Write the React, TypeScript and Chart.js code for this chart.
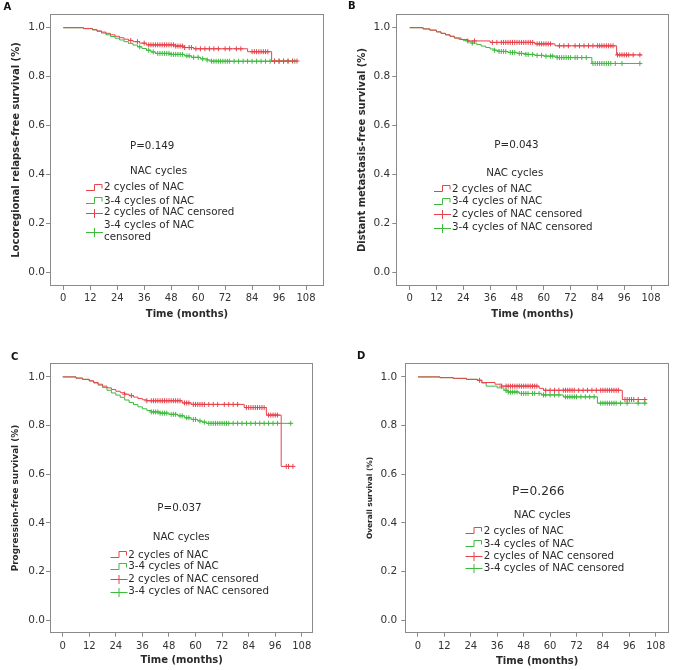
import React, { useEffect, useRef } from 'react';
import { Chart, registerables } from 'chart.js';

Chart.register(...registerables);

// ---------- shared text ----------
const xTickValues = [0, 12, 24, 36, 48, 60, 72, 84, 96, 108];
const yTickValues = [0, 0.2, 0.4, 0.6, 0.8, 1.0];
const xAxisTitle = 'Time (months)';
const legendTitle = 'NAC cycles';
const seriesLabels = ['2 cycles of NAC', '3-4 cycles of NAC', '2 cycles of NAC censored', '3-4 cycles of NAC censored'];
const panelLetters = ['A', 'B', 'C', 'D'];
const yAxisTitles = [
  'Locoregional relapse-free survival (%)',
  'Distant metastasis-free survival (%)',
  'Progression-free survival (%)',
  'Overall survival (%)',
];
const pValueLabels = ['P=0.149', 'P=0.043', 'P=0.037', 'P=0.266'];

// ---------- Panel A: locoregional relapse-free survival ----------
const aRedTimes = [0, 9, 13, 15, 17, 19, 21, 23, 25, 27, 29, 31, 34, 37, 50, 54, 58, 82, 92.7];
const aRedSurv = [1.0, 0.997, 0.992, 0.987, 0.982, 0.977, 0.971, 0.965, 0.959, 0.953, 0.948, 0.943, 0.937, 0.93, 0.925, 0.919, 0.914, 0.902, 0.864];
const aRedEnd = 104;
const aRedCensor = [30, 33, 36, 38, 39, 40, 41, 42, 43, 44, 45, 46, 47, 48, 49, 50, 51, 52, 53, 54, 56, 57, 59, 61, 63, 65, 67, 69, 72, 74, 77, 79, 84, 85, 86, 87, 88, 89, 90, 91, 94, 96, 98, 100, 102, 104];
const aGreenTimes = [0, 9, 13, 15, 17, 19, 21, 23, 25, 27, 29, 31, 33, 35, 37, 39, 41, 48, 54, 57, 61, 64, 66];
const aGreenSurv = [1.0, 0.996, 0.991, 0.985, 0.978, 0.971, 0.964, 0.957, 0.95, 0.943, 0.936, 0.929, 0.922, 0.915, 0.908, 0.901, 0.895, 0.891, 0.885, 0.879, 0.873, 0.868, 0.863];
const aGreenEnd = 103;
const aGreenCensor = [34, 38, 40, 42, 43, 44, 45, 46, 47, 48, 49, 50, 51, 52, 53, 55, 56, 58, 60, 62, 64, 66, 67, 68, 69, 70, 71, 72, 73, 74, 76, 78, 80, 82, 84, 86, 88, 90, 92, 94, 96, 98, 100, 103];

// ---------- Panel B: distant metastasis-free survival ----------
const bRedTimes = [0, 6, 9, 12, 14, 16, 18, 20, 23, 26, 36, 56, 65, 92.6];
const bRedSurv = [1.0, 0.995, 0.99, 0.983, 0.977, 0.971, 0.965, 0.958, 0.952, 0.946, 0.94, 0.934, 0.926, 0.889];
const bRedEnd = 104;
const bRedCensor = [26, 29, 37, 39, 41, 42, 43, 44, 45, 46, 47, 48, 49, 50, 51, 52, 53, 54, 55, 57, 58, 59, 60, 61, 62, 63, 67, 69, 71, 74, 76, 78, 80, 82, 84, 85, 86, 87, 88, 89, 90, 91, 93, 94, 95, 96, 97, 98, 100, 103];
const bGreenTimes = [0, 6, 9, 12, 14, 16, 18, 20, 22, 24, 26, 28, 30, 32, 34, 36, 38, 40, 44, 48, 52, 56, 60, 66, 81.5];
const bGreenSurv = [1.0, 0.995, 0.99, 0.983, 0.977, 0.971, 0.965, 0.958, 0.952, 0.947, 0.942, 0.937, 0.931, 0.925, 0.919, 0.913, 0.908, 0.903, 0.899, 0.895, 0.891, 0.887, 0.884, 0.878, 0.854];
const bGreenEnd = 103;
const bGreenCensor = [28, 38, 40, 41, 42, 43, 45, 46, 47, 49, 50, 52, 53, 55, 57, 59, 61, 63, 64, 66, 67, 68, 69, 70, 71, 72, 74, 75, 77, 79, 82, 83, 84, 85, 86, 87, 88, 89, 90, 92, 95, 103];

// ---------- Panel C: progression-free survival ----------
const cRedTimes = [0, 6, 9, 12, 14, 16, 18, 20, 22, 24, 26, 28, 30, 32, 34, 36, 38, 54, 58, 82, 92, 98.7];
const cRedSurv = [1.0, 0.995, 0.99, 0.984, 0.977, 0.97, 0.962, 0.955, 0.948, 0.941, 0.935, 0.929, 0.923, 0.917, 0.911, 0.906, 0.902, 0.893, 0.887, 0.874, 0.843, 0.632];
const cRedEnd = 104;
const cRedCensor = [28, 31, 38, 40, 41, 42, 43, 44, 45, 46, 47, 48, 49, 50, 51, 52, 53, 55, 56, 57, 59, 60, 61, 62, 63, 64, 66, 68, 70, 73, 75, 77, 79, 83, 84, 85, 86, 87, 88, 89, 90, 91, 93, 94, 95, 96, 97, 101, 102, 104];
const cGreenTimes = [0, 6, 9, 12, 14, 16, 18, 20, 22, 24, 26, 28, 30, 32, 34, 36, 38, 40, 44, 48, 52, 55, 58, 61, 63, 65];
const cGreenSurv = [1.0, 0.995, 0.99, 0.983, 0.975, 0.966, 0.956, 0.945, 0.934, 0.925, 0.916, 0.905, 0.895, 0.886, 0.877, 0.869, 0.862, 0.856, 0.851, 0.846, 0.84, 0.832, 0.825, 0.819, 0.814, 0.809];
const cGreenEnd = 103;
const cGreenCensor = [40, 41, 42, 43, 44, 45, 46, 47, 49, 50, 51, 53, 54, 56, 57, 59, 60, 62, 64, 66, 67, 68, 69, 70, 71, 72, 73, 74, 75, 77, 79, 81, 83, 85, 87, 89, 91, 93, 95, 97, 103];

// ---------- Panel D: overall survival ----------
const dRedTimes = [0, 10, 16, 22, 27, 29, 35, 38, 55, 57, 92.8];
const dRedSurv = [1.0, 0.997, 0.994, 0.99, 0.986, 0.977, 0.97, 0.962, 0.953, 0.945, 0.907];
const dRedEnd = 104;
const dRedCensor = [28, 38, 40, 41, 42, 43, 44, 45, 46, 47, 48, 49, 50, 51, 52, 53, 54, 58, 60, 62, 64, 66, 67, 68, 69, 70, 71, 73, 75, 77, 79, 81, 83, 84, 85, 86, 87, 88, 89, 90, 91, 94, 95, 96, 97, 98, 100, 103];
const dGreenTimes = [0, 10, 16, 22, 27, 29, 31, 36, 39, 41, 46, 56, 66, 81.5];
const dGreenSurv = [1.0, 0.997, 0.994, 0.99, 0.986, 0.975, 0.962, 0.955, 0.945, 0.938, 0.932, 0.926, 0.918, 0.892];
const dGreenEnd = 104;
const dGreenCensor = [40, 41, 42, 43, 44, 45, 47, 48, 49, 50, 52, 53, 55, 57, 58, 60, 62, 64, 67, 68, 69, 70, 71, 72, 74, 76, 78, 80, 83, 84, 85, 86, 87, 88, 89, 90, 92, 95, 100, 103];

const seriesData = [
  { rT: aRedTimes, rS: aRedSurv, rE: aRedEnd, rC: aRedCensor, gT: aGreenTimes, gS: aGreenSurv, gE: aGreenEnd, gC: aGreenCensor },
  { rT: bRedTimes, rS: bRedSurv, rE: bRedEnd, rC: bRedCensor, gT: bGreenTimes, gS: bGreenSurv, gE: bGreenEnd, gC: bGreenCensor },
  { rT: cRedTimes, rS: cRedSurv, rE: cRedEnd, rC: cRedCensor, gT: cGreenTimes, gS: cGreenSurv, gE: cGreenEnd, gC: cGreenCensor },
  { rT: dRedTimes, rS: dRedSurv, rE: dRedEnd, rC: dRedCensor, gT: dGreenTimes, gS: dGreenSurv, gE: dGreenEnd, gC: dGreenCensor },
];

// ---------- styling / layout ----------
const RED = '#e8434d';
const GREEN = '#3fba3f';
const FRAME = '#8a8a8a';
const TEXT = '#2a2a2a';
const FONT = '"DejaVu Sans", Verdana, sans-serif';
const W = 337;
const H = 335;

type Layout = {
  ox: number; oy: number;
  frame: [number, number, number, number];
  xr: [number, number]; yr: [number, number];
  yTitleSize: number; yTitlePad: number; yTickPad: number; xTickPad: number; xTitlePad: number;
  letter: [number, number];
  p: [number, number, number];
  nac: [number, number];
  iconX: number; textX: number; rows: number[]; wrap: boolean;
};

const layouts: Layout[] = [
  { ox: 0, oy: 0, frame: [50, 14, 324, 286], xr: [-5.92, 116.0], yr: [-0.0543, 1.0559],
    yTitleSize: 10, yTitlePad: 10, yTickPad: 1, xTickPad: 2, xTitlePad: 15,
    letter: [7.5, 6.7], p: [130, 146.7, 10.3], nac: [130, 171.7], iconX: 86, textX: 104,
    rows: [187.7, 201, 212.7, 225.7], wrap: true },
  { ox: 337, oy: 0, frame: [59.3, 14, 331.7, 286], xr: [-6.0, 115.9], yr: [-0.0543, 1.0559],
    yTitleSize: 10, yTitlePad: 19, yTickPad: 2, xTickPad: 2, xTitlePad: 14.7,
    letter: [15, 6], p: [157.3, 145.7, 10.3], nac: [149.3, 173.3], iconX: 97, textX: 115,
    rows: [189.3, 201.7, 214.3, 227.7], wrap: false },
  { ox: 0, oy: 335, frame: [50, 28.3, 313.3, 297.7], xr: [-5.74, 113.2], yr: [-0.052, 1.056],
    yTitleSize: 8.9, yTitlePad: 10.7, yTickPad: 1, xTickPad: 4, xTitlePad: 4,
    letter: [15, 22], p: [157.3, 173.3, 10.3], nac: [152.7, 202.7], iconX: 110.5, textX: 128.3,
    rows: [220, 231.5, 244, 256.7], wrap: false },
  { ox: 337, oy: 335, frame: [68.3, 28.3, 333.3, 297.7], xr: [-5.74, 114.0], yr: [-0.052, 1.056],
    yTitleSize: 7.4, yTitlePad: 28.5, yTickPad: 4, xTickPad: 4, xTitlePad: 3,
    letter: [24, 20.5], p: [175, 156.7, 12.2], nac: [176.7, 180], iconX: 128.5, textX: 146.7,
    rows: [196, 209.3, 221, 233.3], wrap: false },
];

function survAt(ts: number[], ss: number[], t: number) {
  let s = ss[0];
  for (let i = 0; i < ts.length; i++) if (ts[i] <= t) s = ss[i];
  return s;
}
function stepPoints(ts: number[], ss: number[], end: number) {
  const pts = ts.map((t, i) => ({ x: t, y: ss[i] }));
  pts.push({ x: end, y: ss[ss.length - 1] });
  return pts;
}
function censorPoints(ts: number[], ss: number[], cens: number[]) {
  return cens.map((c) => ({ x: c, y: survAt(ts, ss, c) }));
}

function drawStepIcon(ctx: CanvasRenderingContext2D, x: number, y: number, color: string) {
  const w = 17;
  ctx.strokeStyle = color;
  ctx.lineWidth = 1;
  ctx.beginPath();
  ctx.moveTo(x, y + 2.5);
  ctx.lineTo(x + 8.5, y + 2.5);
  ctx.lineTo(x + 8.5, y - 3.5);
  ctx.lineTo(x + w - 1, y - 3.5);
  ctx.lineTo(x + w - 1, y + 0.5);
  ctx.stroke();
}
function drawPlusIcon(ctx: CanvasRenderingContext2D, x: number, y: number, color: string) {
  const w = 17;
  ctx.strokeStyle = color;
  ctx.lineWidth = 1;
  ctx.beginPath();
  ctx.moveTo(x, y + 0.5);
  ctx.lineTo(x + w, y + 0.5);
  ctx.moveTo(x + w / 2, y - 4);
  ctx.lineTo(x + w / 2, y + 5);
  ctx.stroke();
}

function makeOverlay(L: Layout, idx: number) {
  return {
    id: 'kmOverlay' + idx,
    afterDraw(chart: any) {
      const ctx: CanvasRenderingContext2D = chart.ctx;
      const ca = chart.chartArea;
      ctx.save();
      // frame
      ctx.strokeStyle = FRAME;
      ctx.lineWidth = 1;
      const l = Math.round(ca.left) + 0.5;
      const t = Math.round(ca.top) + 0.5;
      const r = Math.round(ca.right) - 0.5;
      const b = Math.round(ca.bottom) - 0.5;
      ctx.strokeRect(l, t, r - l, b - t);
      // p-value and legend
      ctx.fillStyle = TEXT;
      ctx.textBaseline = 'middle';
      ctx.textAlign = 'left';
      ctx.font = `${L.p[2]}px ${FONT}`;
      ctx.fillText(pValueLabels[idx], L.p[0], L.p[1]);
      ctx.font = `10.3px ${FONT}`;
      ctx.fillText(legendTitle, L.nac[0], L.nac[1]);
      const colors = [RED, GREEN, RED, GREEN];
      for (let i = 0; i < 4; i++) {
        const y = L.rows[i];
        ctx.fillStyle = TEXT;
        if (i === 3 && L.wrap) {
          ctx.fillText('3-4 cycles of NAC', L.textX, y);
          ctx.fillText('censored', L.textX, y + 11.6);
          drawPlusIcon(ctx, L.iconX, Math.round(y + 5.8), colors[i]);
        } else {
          ctx.fillText(seriesLabels[i], L.textX, y);
          if (i < 2) drawStepIcon(ctx, L.iconX, Math.round(y), colors[i]);
          else drawPlusIcon(ctx, L.iconX, Math.round(y), colors[i]);
        }
      }
      ctx.restore();
    },
  };
}

function KMPanel({ idx }: { idx: number }) {
  const ref = useRef<HTMLCanvasElement | null>(null);
  useEffect(() => {
    const L = layouts[idx];
    const d = seriesData[idx];
    const canvas = ref.current;
    if (!canvas) return;
    const [fl, ft, fr, fb] = L.frame;
    const chart = new Chart(canvas, {
      type: 'scatter',
      data: {
        datasets: [
          { label: seriesLabels[0], data: stepPoints(d.rT, d.rS, d.rE), showLine: true, stepped: true,
            borderColor: RED, borderWidth: 1, pointRadius: 0, fill: false },
          { label: seriesLabels[1], data: stepPoints(d.gT, d.gS, d.gE), showLine: true, stepped: true,
            borderColor: GREEN, borderWidth: 1, pointRadius: 0, fill: false },
          { label: seriesLabels[2], data: censorPoints(d.rT, d.rS, d.rC), showLine: false,
            pointStyle: 'cross', pointRadius: 2.5, borderColor: RED, borderWidth: 1 },
          { label: seriesLabels[3], data: censorPoints(d.gT, d.gS, d.gC), showLine: false,
            pointStyle: 'cross', pointRadius: 2.5, borderColor: GREEN, borderWidth: 1 },
        ],
      } as any,
      options: {
        animation: false,
        responsive: false,
        events: [],
        devicePixelRatio: 1,
        layout: { padding: { left: 0, top: ft, right: W - fr, bottom: 0 } },
        plugins: { legend: { display: false }, tooltip: { enabled: false } },
        scales: {
          x: {
            type: 'linear',
            min: L.xr[0],
            max: L.xr[1],
            afterBuildTicks: (s: any) => { s.ticks = xTickValues.map((v) => ({ value: v })); },
            afterFit: (s: any) => { s.height = H - fb; },
            ticks: { autoSkip: false, maxRotation: 0, color: '#333', padding: L.xTickPad,
              font: { family: FONT, size: 10 } },
            grid: { display: true, drawOnChartArea: false, drawTicks: true, tickLength: 4, color: FRAME },
            border: { display: false },
            title: { display: true, text: xAxisTitle, color: TEXT,
              font: { family: FONT, size: 10, weight: 'bold' }, padding: { top: 0, bottom: L.xTitlePad } },
          },
          y: {
            type: 'linear',
            min: L.yr[0],
            max: L.yr[1],
            afterBuildTicks: (s: any) => { s.ticks = yTickValues.map((v) => ({ value: v })); },
            afterFit: (s: any) => { s.width = fl; },
            ticks: { autoSkip: false, color: '#333', padding: L.yTickPad,
              font: { family: FONT, size: 10.5 }, callback: (v: any) => Number(v).toFixed(1) },
            grid: { display: true, drawOnChartArea: false, drawTicks: true, tickLength: 4, color: FRAME },
            border: { display: false },
            title: { display: true, text: yAxisTitles[idx], color: TEXT,
              font: { family: FONT, size: L.yTitleSize, weight: 'bold' }, padding: { top: L.yTitlePad, bottom: 0 } },
          },
        },
      } as any,
      plugins: [makeOverlay(L, idx)],
    });
    return () => chart.destroy();
  }, [idx]);
  const L = layouts[idx];
  return (
    <div style={{ position: 'absolute', left: L.ox, top: L.oy, width: W, height: H }}>
      <canvas ref={ref} width={W} height={H} style={{ display: 'block', width: W, height: H }} />
      <div style={{ position: 'absolute', left: L.letter[0] - 4, top: L.letter[1] - 6, fontFamily: FONT,
        fontWeight: 'bold', fontSize: 10, lineHeight: '12px', color: '#111' }}>{panelLetters[idx]}</div>
    </div>
  );
}

export default function App() {
  return (
    <div style={{ position: 'absolute', left: 0, top: 0, width: 674, height: 670, background: '#fff', overflow: 'hidden' }}>
      {[0, 1, 2, 3].map((i) => <KMPanel key={i} idx={i} />)}
    </div>
  );
}
